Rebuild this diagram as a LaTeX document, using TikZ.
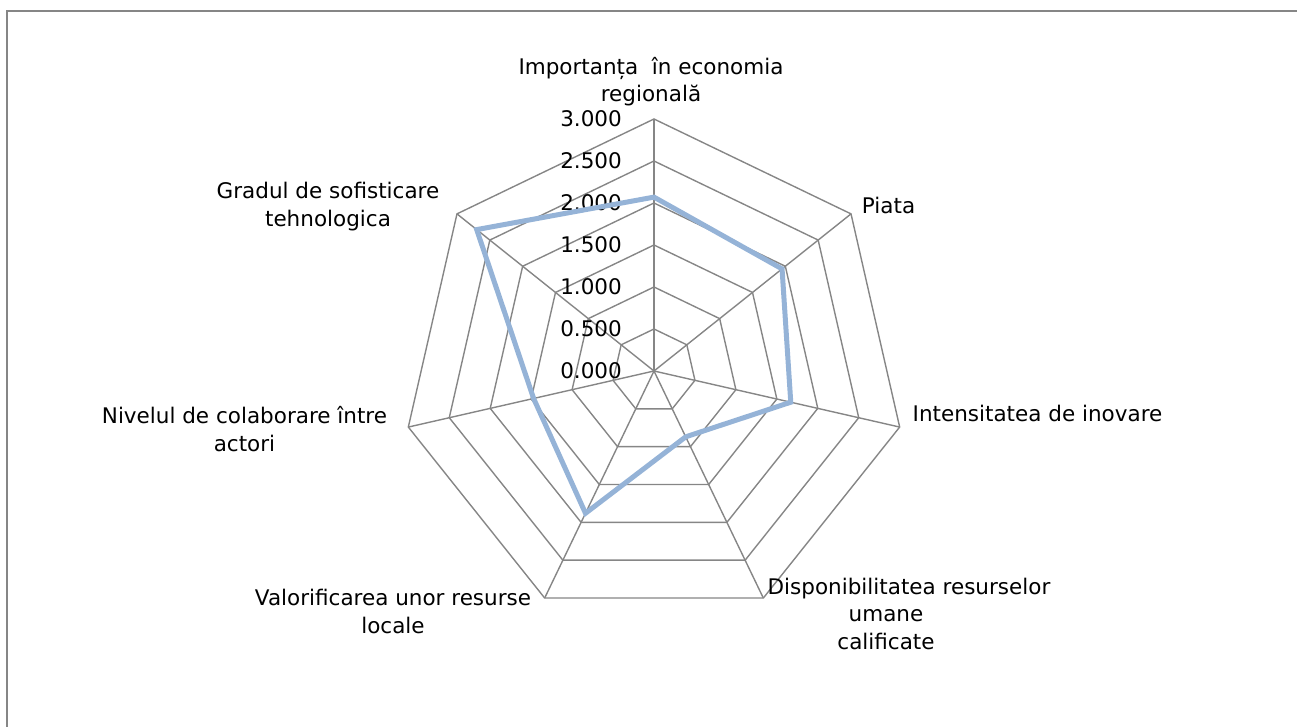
\documentclass[tikz,border=0pt]{standalone}
\usepackage{fontspec}
\setmainfont{DejaVu Sans}
\usepackage{xcolor}

\definecolor{gridgray}{HTML}{868686}
\definecolor{seriesblue}{HTML}{95B3D7}
\tikzset{
    grid line/.style={draw=gridgray, line width=1.4pt},
    series line/.style={draw=seriesblue, line width=5pt},
    axis label/.style={inner sep=0pt, align=center, font=\fontsize{21.5}{27.7}\selectfont},
    tick label/.style={inner sep=0pt, anchor=base east, font=\fontsize{21.5}{25}\selectfont},
}

\begin{document}
\begin{tikzpicture}[x=1pt, y=1pt]
        \useasboundingbox (-654,-356) rectangle (643,371);
        \draw[gridgray, line width=2pt] (643,360) -| (-646.5,-356);

        \coordinate (o) at (0, 0);
        \foreach \k in {0,...,6}
            \coordinate (axis-\k) at (90-\k*360/7:252);

        \foreach \r in {1,...,6}
            \draw[grid line] (90:\r*42) \foreach \k in {1,...,6}{ -- (90-\k*360/7:\r*42) } -- cycle;
        \foreach \k in {1,...,6}
            \draw[grid line] (o) -- (axis-\k);
        \draw[grid line, line width=2pt] (o) -- (axis-0);

        \foreach \v [count=\i from 0] in {0.000,0.500,1.000,1.500,2.000,2.500,3.000}
            \node[tick label](tick-\i) at (-32, \i*42-8) {\v};

        \foreach \val [count=\k from 0] in {2.07,1.95,1.67,0.87,1.88,1.47,2.70}
            \coordinate (pt-\k) at (90-\k*360/7:\val*84);
        \draw[series line] (pt-0) -- (pt-1) -- (pt-2) -- (pt-3) -- (pt-4) -- (pt-5) -- (pt-6) -- cycle;

        \node[axis label, anchor=base](importanta) at (-3, 269) {Importanța~ în economia\\regională};
        \node[axis label, anchor=base west](piata) at (207.7, 157.7) {Piata};
        \node[axis label, anchor=base west](inovare) at (258.5, -50.7) {Intensitatea de inovare};
        \node[axis label, anchor=base](resurse) at (255, -278.4) {Disponibilitatea resurselor\\umane\kern46pt\null\\calificate\kern46pt\null};
        \node[axis label, anchor=base](locale) at (-261, -262) {Valorificarea unor resurse\\locale};
        \node[axis label, anchor=base](colaborare) at (-409.5, -80.7) {Nivelul de colaborare între\\actori};
        \node[axis label, anchor=base](tehnologica) at (-326, 144.3) {Gradul de sofisticare\\tehnologica};
\end{tikzpicture}
\end{document}
